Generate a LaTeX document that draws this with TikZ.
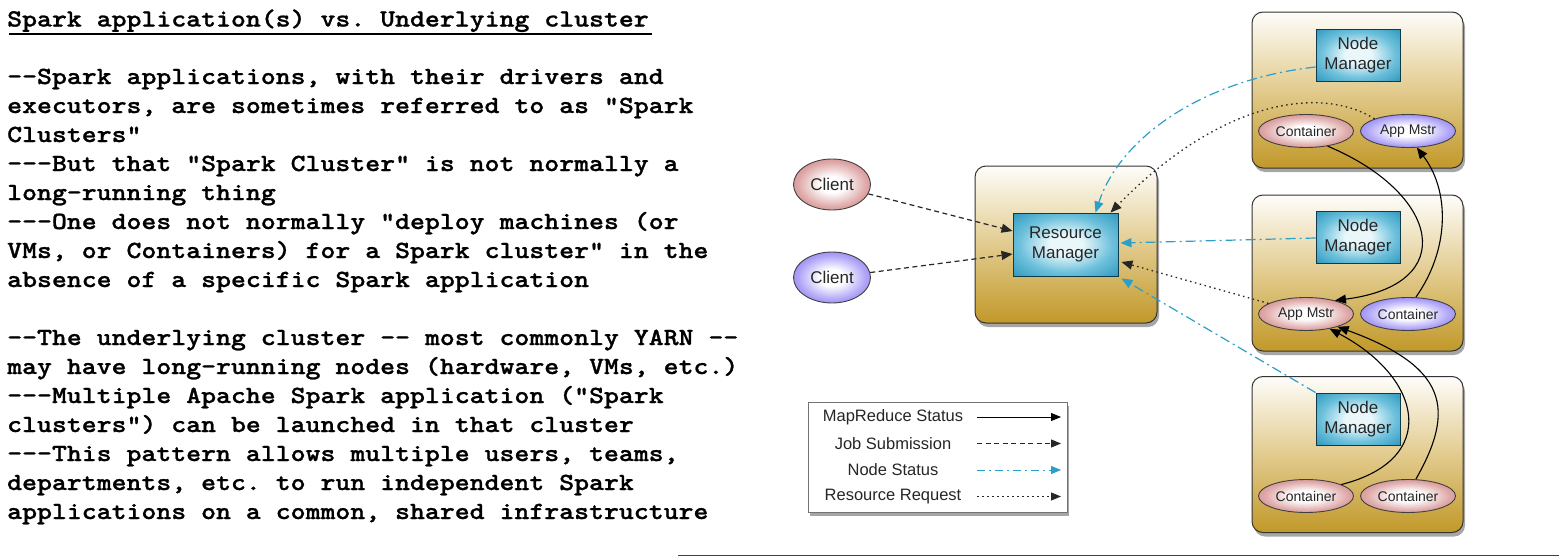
\documentclass[tikz,border=0pt]{standalone}
\usepackage{fontspec}
\setmainfont{Liberation Sans}
\setsansfont{Liberation Sans}
\setmonofont{lmmonolt10-bold.otf}[FakeStretch=1.152, FakeBold=1]
\usetikzlibrary{arrows.meta,shadows,shapes.geometric}

\definecolor{gold}{HTML}{C19829}
\definecolor{goldmid}{HTML}{E2CB8E}
\definecolor{cream}{HTML}{FEFDFA}
\definecolor{tealout}{HTML}{2391B8}
\definecolor{tealmid}{HTML}{6EC1DC}
\definecolor{tealin}{HTML}{E9F7FB}
\definecolor{pinkout}{HTML}{C46A6B}
\definecolor{pinkmid}{HTML}{DFA8A8}
\definecolor{purpout}{HTML}{6F5CF0}
\definecolor{purpmid}{HTML}{AEA3F7}
\definecolor{nodecyan}{HTML}{2C9FC9}

\pgfdeclareradialshading{tealsh}{\pgfpoint{0bp}{0bp}}{color(0bp)=(tealin); color(8bp)=(tealin); color(22bp)=(tealmid); color(38bp)=(tealout); color(50bp)=(tealout)}
\pgfdeclareradialshading{pinksh}{\pgfpoint{0bp}{0bp}}{color(0bp)=(white); color(8bp)=(white); color(22bp)=(pinkmid); color(38bp)=(pinkout); color(50bp)=(pinkout)}
\pgfdeclareradialshading{purpsh}{\pgfpoint{0bp}{0bp}}{color(0bp)=(white); color(8bp)=(white); color(22bp)=(purpmid); color(38bp)=(purpout); color(50bp)=(purpout)}

\begin{document}
\begin{tikzpicture}[x=1pt,y=-1pt,
  txt/.style={anchor=base west, inner sep=0pt, font=\ttfamily\fontsize{24.67}{29}\selectfont},
  hostbox/.style={draw=black!80, line width=1pt, rounded corners=11pt,
    top color=cream, bottom color=gold, middle color=goldmid,
    drop shadow={shadow xshift=2pt, shadow yshift=-4pt, opacity=0.35, fill=black},
    minimum width=211pt, minimum height=156pt, inner sep=0pt},
  mgr/.style={draw=black!60!tealout, line width=0.9pt, shading=tealsh,
    minimum width=84pt, minimum height=52pt, inner sep=0pt, align=center,
    font=\sffamily\fontsize{17}{20}\selectfont, text=black!85},
  ell/.style={ellipse, draw=black!75, line width=0.9pt, inner sep=0pt,
    minimum width=95pt, minimum height=33pt, font=\sffamily\fontsize{14}{16}\selectfont, text=black!85},
  pinkell/.style={ell, shading=pinksh},
  purpell/.style={ell, shading=purpsh},
  client/.style={ellipse, draw=black!75, line width=0.9pt, inner sep=0pt,
    minimum width=77pt, minimum height=51pt, font=\sffamily\fontsize{17}{20}\selectfont, text=black!85},
  tipbig/.style={-{Triangle[length=11pt,width=9pt]}},
  tipsmall/.style={-{Triangle[length=10pt,width=8pt]}},
  mrs/.style={draw=black, line width=1.1pt},
  job/.style={draw=black!85, line width=1.2pt, dash pattern=on 5pt off 3.5pt},
  nst/.style={draw=nodecyan, line width=1.2pt, dash pattern=on 10pt off 4pt on 2pt off 4pt},
  req/.style={draw=black!85, line width=1.3pt, dash pattern=on 1.5pt off 3.5pt},
  legtxt/.style={font=\sffamily\fontsize{16.5}{19}\selectfont, text=black!85, inner sep=0pt}
]
\useasboundingbox (0,0) rectangle (1559,557);

% ---------------- text ----------------
\node[txt] (title) at (7,26.5) {Spark application(s) vs. Underlying cluster};
\coordinate (ul1) at (9,34);
\coordinate (ul2) at (652,34);
\draw[line width=2.6pt] (ul1) -- (ul2);

\node[txt] (l1) at (7,84) {--Spark applications, with their drivers and};
\node[txt] (l2) at (7,113) {executors, are sometimes referred to as "Spark};
\node[txt] (l3) at (7,142) {Clusters"};
\node[txt] (l4) at (7,171) {---But that "Spark Cluster" is not normally a};
\node[txt] (l5) at (7,200) {long-running thing};
\node[txt] (l6) at (7,229) {---One does not normally "deploy machines (or};
\node[txt] (l7) at (7,258) {VMs, or Containers) for a Spark cluster" in the};
\node[txt] (l8) at (7,287) {absence of a specific Spark application};
\node[txt] (l9) at (7,345) {--The underlying cluster -- most commonly YARN --};
\node[txt] (l10) at (7,374) {may have long-running nodes (hardware, VMs, etc.)};
\node[txt] (l11) at (7,403) {---Multiple Apache Spark application ("Spark};
\node[txt] (l12) at (7,432) {clusters") can be launched in that cluster};
\node[txt] (l13) at (7,461) {---This pattern allows multiple users, teams,};
\node[txt] (l14) at (7,490) {departments, etc. to run independent Spark};
\node[txt] (l15) at (7,519) {applications on a common, shared infrastructure};

\coordinate (bl1) at (678,555.5);
\coordinate (bl2) at (1559,555.5);
\draw[line width=1.4pt, black!75] (bl1) -- (bl2);

% ---------------- boxes ----------------
\node[hostbox, minimum width=182pt, minimum height=157pt] (rmbox) at (1066,244.5) {};
\node[hostbox] (h1) at (1357.5,90) {};
\node[hostbox] (h2) at (1357.5,273) {};
\node[hostbox] (h3) at (1357.5,454.5) {};

\node[mgr, minimum width=105pt, minimum height=63pt] (rm) at (1065.5,244.5) {Resource\\Manager};
\node[mgr] (nm1) at (1358,55) {Node\\Manager};
\node[mgr] (nm2) at (1358,237) {Node\\Manager};
\node[mgr] (nm3) at (1358,419) {Node\\Manager};

\node[client, shading=pinksh] (client1) at (832,184.5) {Client};
\node[client, shading=purpsh] (client2) at (832,277.5) {Client};

\node[pinkell] (c1) at (1306,131) {Container};
\node[purpell] (am1) at (1408,131) {App Mstr};
\node[pinkell] (am2) at (1306,314) {App Mstr};
\node[purpell] (c2) at (1408,314) {Container};
\node[pinkell] (c3a) at (1306,496) {Container};
\node[pinkell] (c3b) at (1408,496) {Container};

% ---------------- connectors ----------------
\draw[job, tipbig] (client1) -- ([yshift=13.5pt]rm.west);
\draw[job, tipbig] (client2) -- ([yshift=-9.5pt]rm.west);

\draw[nst, tipbig] ([yshift=-12pt]nm1.west) .. controls +(-116,13) and +(24,-73) .. ([xshift=30pt]rm.north);
\draw[req, tipbig] (am1.160) .. controls +(-55,-34) and +(110,-112) .. ([xshift=45pt]rm.north);

\draw[nst, tipbig] ([yshift=-1pt]nm2.west) -- ([xshift=2pt,yshift=1.5pt]rm.east);
\draw[req, tipbig] (am2) -- ([xshift=3pt,yshift=-17.5pt]rm.east);
\draw[nst, tipbig] (nm3.north west) -- ([xshift=3pt,yshift=-2pt]rm.south east);

\draw[mrs, tipbig] (c1.-35) .. controls +(112,47) and +(126,-16) .. (am2.25);
\draw[mrs, tipbig] (c2.65) .. controls +(34,-48) and +(33,43) .. (am1.-62);
\draw[mrs, tipbig] (c3a.18) .. controls +(99,-25) and +(93,49) .. (am2.-32);
\draw[mrs, tipbig] (c3b.65) .. controls +(40,-70) and +(110,40) .. (am2.-22);

% ---------------- legend ----------------
\node[draw=black!55, fill=white, line width=0.8pt, minimum width=259pt, minimum height=110pt,
  drop shadow={shadow xshift=2pt, shadow yshift=-4pt, opacity=0.35, fill=black}] (leg) at (937.5,457) {};
\node[legtxt] (lg1) at (893,417) {MapReduce Status};
\node[legtxt] (lg2) at (893,443.5) {Job Submission};
\node[legtxt] (lg3) at (893,470) {Node Status};
\node[legtxt] (lg4) at (893,496.5) {Resource Request};
\coordinate (a1s) at (977,417);   \coordinate (a1e) at (1061,417);
\coordinate (a2s) at (977,443.5); \coordinate (a2e) at (1061,443.5);
\coordinate (a3s) at (977,470);   \coordinate (a3e) at (1061,470);
\coordinate (a4s) at (977,496.5); \coordinate (a4e) at (1061,496.5);
\draw[mrs, line width=0.9pt, tipsmall] (a1s) -- (a1e);
\draw[job, line width=1pt, tipsmall] (a2s) -- (a2e);
\draw[nst, line width=1pt, dash pattern=on 8pt off 4pt on 2pt off 4pt, tipsmall] (a3s) -- (a3e);
\draw[req, line width=1.1pt, tipsmall] (a4s) -- (a4e);
\end{tikzpicture}
\end{document}
